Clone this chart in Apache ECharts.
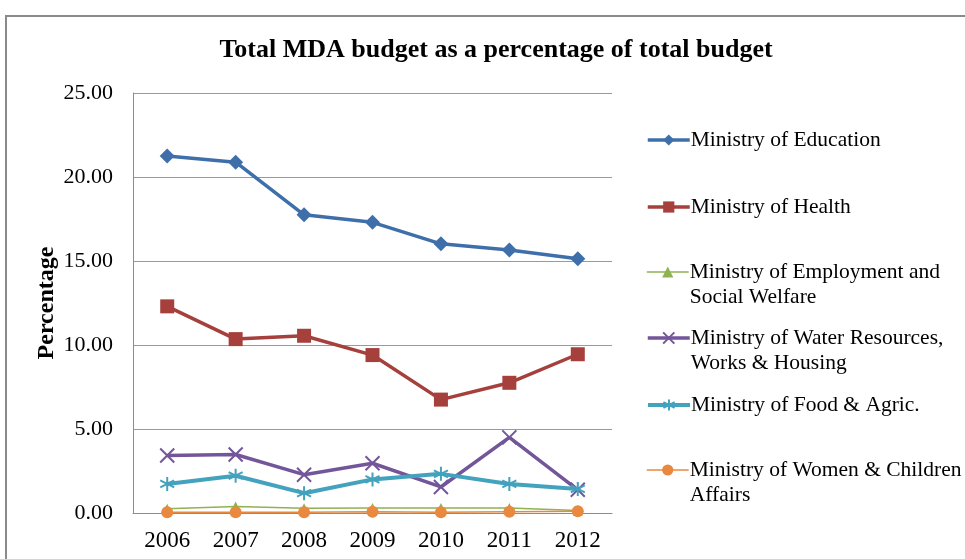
<!DOCTYPE html>
<html>
<head>
<meta charset="utf-8">
<script src="https://cdn.jsdelivr.net/npm/echarts@6/dist/echarts.min.js"></script>
<style>
  html, body { margin: 0; padding: 0; background: #fff; }
  #chart { width: 965px; height: 559px; }
</style>
</head>
<body>
<div id="chart"></div>
<script>
// data
const years = ['2006', '2007', '2008', '2009', '2010', '2011', '2012']
const education = [21.25, 20.88, 17.75, 17.3, 16.02, 15.65, 15.13]
const health = [12.3, 10.35, 10.55, 9.4, 6.75, 7.75, 9.45]
const employment = [0.25, 0.38, 0.28, 0.3, 0.3, 0.3, 0.15]
const water = [3.42, 3.48, 2.28, 2.96, 1.55, 4.5, 1.38]
const food = [1.73, 2.22, 1.18, 2.0, 2.33, 1.73, 1.43]
const women = [0.05, 0.05, 0.05, 0.08, 0.05, 0.08, 0.1]
const yTicks = [0, 5, 10, 15, 20, 25]

const names = [
  'Ministry of Education',
  'Ministry of Health',
  'Ministry of Employment and\nSocial Welfare',
  'Ministry of Water Resources,\nWorks & Housing',
  'Ministry of Food & Agric.',
  'Ministry of Women & Children\nAffairs'
]

const serif = '"Liberation Serif", "DejaVu Serif", serif'
const xPath = 'path://M0,0L10,10M10,0L0,10'
const starPath = 'path://M5,0L5,10M0.7,2.5L9.3,7.5M9.3,2.5L0.7,7.5'

// series styling: colour, symbol, symbol size, line width, stroked symbol
const styles = [
  ['#3f6faa', 'diamond', 15, 3.5, false],
  ['#a5403c', 'rect', 14, 3.5, false],
  ['#8fb350', 'triangle', 10, 1.5, false],
  ['#73569a', xPath, 14, 3.5, true],
  ['#43a2bd', starPath, 14, 4, true],
  ['#e8893f', 'circle', 12, 1.5, false]
]
const seriesData = [education, health, employment, water, food, women]

// legend icon centres (y) for each entry
const legendY = [140, 207, 272, 338, 405, 470]
const lh = 25

const chart = echarts.init(document.getElementById('chart'))

const mkSeries = (i) => {
  const [color, symbol, size, width, stroke] = styles[i]
  return {
    name: names[i],
    type: 'line',
    data: seriesData[i],
    symbol: symbol,
    symbolSize: size,
    showSymbol: true,
    lineStyle: { color: color, width: width },
    itemStyle: stroke
      ? { color: color, borderColor: color, borderWidth: 2 }
      : { color: color },
    emphasis: { disabled: true },
    z: 3
  }
}

const legends = names.map((n, i) => {
  const lines = n.split('\n').length
  const blockLines = lines > 1 ? lines + 1 : 1
  return {
    data: [n],
    left: 646,
    top: legendY[i] - (blockLines * lh) / 2,
    padding: 0,
    itemWidth: 42,
    itemHeight: 14,
    itemGap: 0,
    selectedMode: false,
    lineStyle: { width: styles[i][3] },
    formatter: name => (name.indexOf('\n') >= 0 ? ' \n' + name : name),
    textStyle: {
      fontFamily: serif,
      fontSize: 21.5,
      lineHeight: lh,
      color: '#000',
      padding: [0, 0, 0, -4]
    }
  }
})

const option = {
  animation: false,
  backgroundColor: '#fff',
  title: {
    text: 'Total MDA budget as a percentage of total budget',
    left: 491,
    textAlign: 'center',
    top: 32,
    textStyle: {
      fontFamily: serif,
      fontWeight: 'bold',
      fontSize: 26,
      color: '#000'
    }
  },
  graphic: [
    {
      type: 'rect',
      shape: { x: 6, y: 16, width: 1000, height: 600 },
      style: { fill: 'none', stroke: '#8a8a8a', lineWidth: 2 },
      silent: true
    }
  ],
  legend: legends,
  grid: { left: 133, right: 353, top: 93, bottom: 46 },
  xAxis: {
    type: 'category',
    data: years,
    boundaryGap: true,
    axisLine: { show: true, lineStyle: { color: '#8c8c8c', width: 1 } },
    axisTick: { show: false },
    axisLabel: {
      fontFamily: serif,
      fontSize: 23,
      color: '#000',
      margin: 16
    }
  },
  yAxis: {
    type: 'value',
    min: yTicks[0],
    max: yTicks[yTicks.length - 1],
    interval: 5,
    name: 'Percentage',
    nameLocation: 'middle',
    nameGap: 74,
    nameTextStyle: {
      fontFamily: serif,
      fontWeight: 'bold',
      fontSize: 24,
      color: '#000'
    },
    axisLine: { show: true, lineStyle: { color: '#8c8c8c', width: 1 } },
    axisTick: { show: false },
    splitLine: { show: true, lineStyle: { color: '#9a9a9a', width: 1 } },
    axisLabel: {
      fontFamily: serif,
      fontSize: 22,
      color: '#000',
      margin: 20,
      formatter: v => v.toFixed(2)
    }
  },
  series: names.map((n, i) => mkSeries(i))
}

chart.setOption(option)
</script>
</body>
</html>
